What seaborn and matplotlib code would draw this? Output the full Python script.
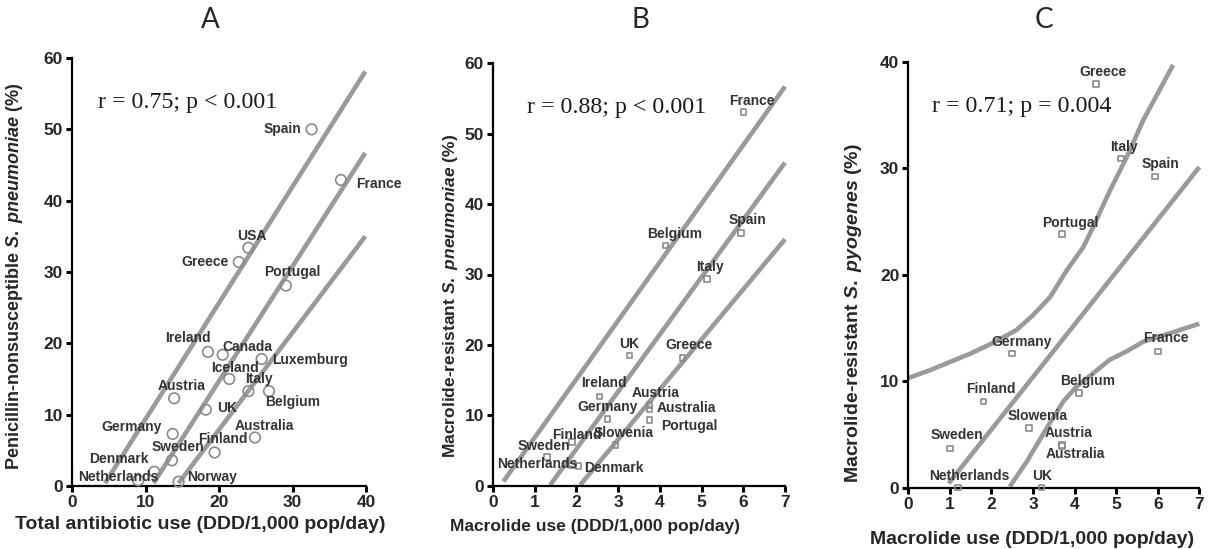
import matplotlib
matplotlib.use("Agg")
import matplotlib.pyplot as plt
import seaborn as sns
import pandas as pd

# ---------------- Panel A: penicillin non-susceptibility vs total antibiotic use
a_countries = ["Spain", "France", "USA", "Greece", "Portugal", "Ireland", "Canada",
               "Luxemburg", "Iceland", "Italy", "Belgium", "Austria", "UK",
               "Australia", "Germany", "Finland", "Sweden", "Denmark",
               "Netherlands", "Norway"]
a_use = [32.6, 36.6, 24.0, 22.7, 29.1, 18.5, 20.5, 25.8, 21.4, 24.0, 26.8, 13.9,
         18.2, 24.9, 13.7, 19.4, 13.6, 11.2, 9.0, 14.5]
a_resist = [50.0, 42.9, 33.4, 31.4, 28.1, 18.8, 18.4, 17.8, 15.0, 13.3, 13.3, 12.3,
            10.7, 6.8, 7.3, 4.7, 3.6, 2.0, 0.8, 0.6]
a_upper_x = [4.5, 39.9]
a_upper_y = [0.4, 58.1]
a_fit_x = [11.1, 39.9]
a_fit_y = [0.4, 46.7]
a_lower_x = [14.5, 39.9]
a_lower_y = [0.4, 35.0]

# ---------------- Panel B: macrolide resistance in S. pneumoniae vs macrolide use
b_countries = ["France", "Spain", "Belgium", "Italy", "UK", "Greece", "Ireland",
               "Austria", "Germany", "Australia", "Portugal", "Slowenia", "Finland",
               "Sweden", "Netherlands", "Denmark"]
b_use = [6.01, 5.95, 4.14, 5.13, 3.27, 4.54, 2.55, 3.75, 2.75, 3.75, 3.75, 2.94,
         1.9, 1.30, 1.9, 2.05]
b_resist = [53.1, 35.9, 34.1, 29.4, 18.5, 18.1, 12.7, 11.5, 9.5, 10.85, 9.3, 5.8,
            6.2, 4.1, 2.9, 2.8]
b_upper_x = [0.25, 7.0]
b_upper_y = [0.6, 56.7]
b_fit_x = [1.37, 7.0]
b_fit_y = [0.1, 45.9]
b_lower_x = [2.09, 7.0]
b_lower_y = [0.1, 35.0]

# ---------------- Panel C: macrolide resistance in S. pyogenes vs macrolide use
c_countries = ["Greece", "Italy", "Spain", "Portugal", "Germany", "France", "Belgium",
               "Finland", "Slowenia", "Austria", "Australia", "Sweden",
               "Netherlands", "UK"]
c_use = [4.51, 5.11, 5.93, 3.70, 2.50, 6.01, 4.10, 1.81, 2.90, 3.70, 3.70, 1.00,
         1.19, 3.20]
c_resist = [37.9, 30.9, 29.2, 23.8, 12.6, 12.8, 8.9, 8.1, 5.6, 4.0, 3.9, 3.7,
            0.0, 0.0]
c_upper_x = [0.0, 0.5, 1.0, 1.5, 2.04, 2.6, 3.0, 3.41, 3.81, 4.21, 4.45, 4.85,
             5.25, 5.65, 6.37]
c_upper_y = [10.3, 11.0, 11.8, 12.6, 13.6, 14.8, 16.2, 17.9, 20.4, 22.6, 24.5,
             27.9, 31.0, 34.5, 39.7]
c_fit_x = [0.97, 7.0]
c_fit_y = [0.4, 30.1]
c_lower_x = [2.44, 2.85, 3.33, 3.73, 4.05, 4.45, 4.84, 5.25, 5.65, 6.29, 7.0]
c_lower_y = [0.1, 2.45, 5.6, 8.1, 9.5, 10.75, 12.0, 12.8, 13.7, 14.5, 15.4]

# label placement (pixel offsets of the label centre from its point)
a_offsets = {"Spain": (-29, 0), "France": (38, -4), "USA": (3, 12),
             "Greece": (-34, 0), "Portugal": (6, 14), "Ireland": (-20, 14),
             "Canada": (25, 8), "Luxemburg": (48, -1), "Iceland": (6, 11),
             "Italy": (11, 12), "Belgium": (24, -11), "Austria": (7, 12),
             "UK": (21, 2), "Australia": (9, 11), "Germany": (-41, 7),
             "Finland": (8, 13), "Sweden": (6, 13), "Denmark": (-35, 13),
             "Netherlands": (-20, 3), "Norway": (33, 5)}
b_offsets = {"France": (8, 11), "Spain": (6, 13), "Belgium": (9, 12),
             "Italy": (3, 12), "UK": (0, 11), "Greece": (7, 13),
             "Ireland": (5, 13), "Austria": (6, 12), "Germany": (0, 12),
             "Australia": (37, 1), "Portugal": (40, -6), "Slowenia": (8, 12),
             "Finland": (5, 7), "Sweden": (-3, 11), "Netherlands": (-35, 1),
             "Denmark": (35, -2)}
c_offsets = {"Greece": (7, 12), "Italy": (3, 12), "Spain": (6, 13),
             "Portugal": (8, 11), "Germany": (9, 12), "France": (8, 13),
             "Belgium": (9, 12), "Finland": (7, 12), "Slowenia": (9, 12),
             "Austria": (6, 12), "Australia": (13, -8), "Sweden": (7, 13),
             "Netherlands": (12, 12), "UK": (1, 12)}

sns.set_style("ticks")
plt.rcParams["font.family"] = ["Liberation Sans", "DejaVu Sans"]
plt.rcParams["font.weight"] = "bold"
plt.rcParams["mathtext.fontset"] = "custom"
plt.rcParams["mathtext.rm"] = "Liberation Sans:bold"
plt.rcParams["mathtext.it"] = "Liberation Sans:italic:bold"
plt.rcParams["mathtext.bf"] = "Liberation Sans:bold"

LINE_COLOR = "#9a9a9a"
MARK_COLOR = "#8a8a8a"
TEXT_COLOR = "#333333"

W, H = 1209, 549
fig = plt.figure(figsize=(W / 100, H / 100), dpi=100)

panels = [
    dict(rect=[72 / W, 1 - 486 / H, 294 / W, 428 / H],
         x=a_use, y=a_resist, names=a_countries, offsets=a_offsets,
         lines=[(a_upper_x, a_upper_y), (a_fit_x, a_fit_y), (a_lower_x, a_lower_y)],
         marker="o", msize=58, xlim=(0, 40), xticks=[0, 10, 20, 30, 40],
         ylim=(0, 60), yticks=[0, 10, 20, 30, 40, 50, 60],
         stat="r = 0.75; p < 0.001", stat_pos=(0.088, 0.895),
         title="A", title_xy=(210, 20),
         xlabel="Total antibiotic use (DDD/1,000 pop/day)", xl_size=14,
         xl_pos=(0.435, -0.07),
         ylabel="Penicillin-nonsusceptible $\\mathit{S.\\ pneumoniae}$ (%)",
         yl_size=13, yl_pos=(-0.16, 0.49)),
    dict(rect=[493 / W, 1 - 485.7 / H, 292 / W, 422.4 / H],
         x=b_use, y=b_resist, names=b_countries, offsets=b_offsets,
         lines=[(b_upper_x, b_upper_y), (b_fit_x, b_fit_y), (b_lower_x, b_lower_y)],
         marker="s", msize=16, xlim=(0, 7), xticks=list(range(8)),
         ylim=(0, 60), yticks=[0, 10, 20, 30, 40, 50, 60],
         stat="r = 0.88; p < 0.001", stat_pos=(0.118, 0.895),
         title="B", title_xy=(640, 20),
         xlabel="Macrolide use (DDD/1,000 pop/day)", xl_size=12.5,
         xl_pos=(0.35, -0.079),
         ylabel="Macrolide-resistant $\\mathit{S.\\ pneumoniae}$ (%)",
         yl_size=12.5, yl_pos=(-0.112, 0.45)),
    dict(rect=[908.3 / W, 1 - 487.7 / H, 291 / W, 426 / H],
         x=c_use, y=c_resist, names=c_countries, offsets=c_offsets,
         lines=[(c_upper_x, c_upper_y), (c_fit_x, c_fit_y), (c_lower_x, c_lower_y)],
         marker="s", msize=16, xlim=(0, 7), xticks=list(range(8)),
         ylim=(0, 40), yticks=[0, 10, 20, 30, 40],
         stat="r = 0.71; p = 0.004", stat_pos=(0.08, 0.895),
         title="C", title_xy=(1044, 20),
         xlabel="Macrolide use (DDD/1,000 pop/day)", xl_size=14,
         xl_pos=(0.425, -0.102),
         ylabel="Macrolide-resistant $\\mathit{S.\\ pyogenes}$ (%)",
         yl_size=14, yl_pos=(-0.152, 0.41)),
]

for p in panels:
    ax = fig.add_axes(p["rect"])
    for lx, ly in p["lines"]:
        sns.lineplot(x=lx, y=ly, ax=ax, sort=False, color=LINE_COLOR,
                     linewidth=3.3, solid_capstyle="butt", solid_joinstyle="round",
                     clip_on=False, zorder=2)
    df = pd.DataFrame({"use": p["x"], "resist": p["y"], "country": p["names"]})
    sns.scatterplot(data=df, x="use", y="resist", ax=ax, marker=p["marker"],
                    s=p["msize"], facecolor="none", edgecolor=MARK_COLOR,
                    linewidth=1.2, clip_on=False, zorder=3)
    for name, xv, yv in zip(p["names"], p["x"], p["y"]):
        dx, dy = p["offsets"][name]
        ax.annotate(name, (xv, yv), xytext=(dx, dy), textcoords="offset pixels",
                    ha="center", va="center", fontsize=10, fontweight="bold",
                    color=TEXT_COLOR, zorder=4, annotation_clip=False)
    ax.set_xlim(*p["xlim"])
    ax.set_ylim(*p["ylim"])
    ax.set_xticks(p["xticks"])
    ax.set_yticks(p["yticks"])
    ax.tick_params(axis="both", direction="out", length=4, width=2.2,
                   labelsize=12.5, color="black", pad=2.5)
    for lab in ax.get_xticklabels() + ax.get_yticklabels():
        lab.set_fontweight("bold")
    for side in ("left", "bottom"):
        ax.spines[side].set_linewidth(1.6)
        ax.spines[side].set_color("black")
    sns.despine(ax=ax)
    ax.set_xlabel(p["xlabel"], fontsize=p["xl_size"], fontweight="bold")
    ax.set_ylabel(p["ylabel"], fontsize=p["yl_size"], fontweight="bold")
    ax.xaxis.set_label_coords(*p["xl_pos"])
    ax.yaxis.set_label_coords(*p["yl_pos"])
    ax.text(p["stat_pos"][0], p["stat_pos"][1], p["stat"], transform=ax.transAxes,
            fontsize=17.2, fontfamily="Liberation Serif", fontweight="normal",
            color="#1a1a1a", ha="left", va="center")
    tx, ty = p["title_xy"]
    fig.text(tx / W, 1 - ty / H, p["title"], fontsize=20, fontfamily="Lato",
             fontweight="normal", ha="center", va="center")
    ax.set_facecolor("white")

fig.savefig("out.png", dpi=100, facecolor="white")
